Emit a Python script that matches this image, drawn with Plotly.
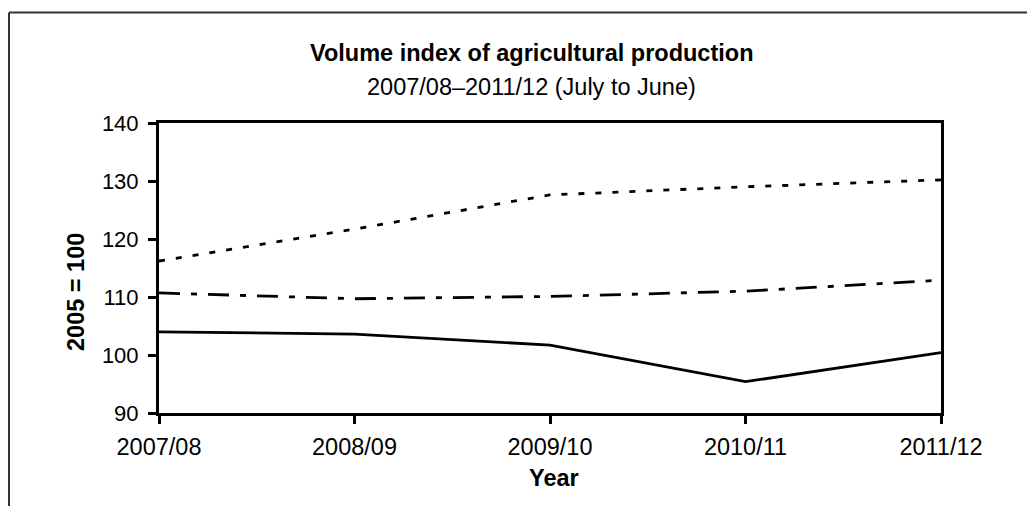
import plotly.graph_objects as go

years = ["2007/08", "2008/09", "2009/10", "2010/11", "2011/12"]
series_solid = [104.0, 103.6, 101.7, 95.4, 100.4]
series_dashdot = [110.7, 109.7, 110.1, 111.0, 112.9]
series_dotted = [116.2, 121.7, 127.6, 129.0, 130.2]
y_ticks = [90, 100, 110, 120, 130, 140]

FONT = "Liberation Sans, Arial, sans-serif"
FS = 23.5
OFF = 8  # page body margin offset

fig = go.Figure()
fig.add_trace(go.Scatter(x=years, y=series_dotted, mode="lines",
                         line=dict(color="black", width=2.8, dash="6px,11px"),
                         showlegend=False))
fig.add_trace(go.Scatter(x=years, y=series_dashdot, mode="lines",
                         line=dict(color="black", width=2.8, dash="21px,11px,6px,11px"),
                         showlegend=False))
fig.add_trace(go.Scatter(x=years, y=series_solid, mode="lines",
                         line=dict(color="black", width=2.8),
                         showlegend=False))

W, H = 1035, 506
SL, SR, ST, SB = 159, 941, 123, 413
L, T = SL - OFF, ST - OFF
R, B = W - (SR - OFF), H - (SB - OFF)
pw, ph = W - L - R, H - T - B

def px(x):
    return (x - OFF - L) / pw

def py(y):
    return (H - B - (y - OFF)) / ph

fig.update_layout(
    width=W, height=H,
    margin=dict(l=L, r=R, t=T, b=B, pad=0),
    paper_bgcolor="white", plot_bgcolor="white",
    font=dict(family=FONT, size=FS, color="black"),
    xaxis=dict(type="category", range=[0, 4], showline=True, linecolor="black",
               linewidth=3, mirror=True, ticks="outside", ticklen=8, tickwidth=2.5,
               tickcolor="black", showgrid=False, zeroline=False, ticklabelstandoff=3,
               tickfont=dict(family=FONT, size=FS, color="black")),
    yaxis=dict(range=[90, 140], tickvals=y_ticks, showline=True, linecolor="black",
               linewidth=3, mirror=True, ticks="outside", ticklen=8, tickwidth=2.5,
               tickcolor="black", showgrid=False, zeroline=False, ticklabelstandoff=5,
               tickfont=dict(family=FONT, size=22, color="black")),
    annotations=[
        dict(text="<b>Volume index of agricultural production</b>", xref="paper", yref="paper",
             x=px(531), y=py(53), xanchor="center", yanchor="middle", showarrow=False,
             font=dict(family=FONT, size=FS, color="black")),
        dict(text="2007/08–2011/12 (July to June)", xref="paper", yref="paper",
             x=px(531), y=py(87), xanchor="center", yanchor="middle", showarrow=False,
             font=dict(family=FONT, size=FS, color="black")),
        dict(text="<b>2005 = 100</b>", xref="paper", yref="paper", textangle=-90,
             x=px(75.5), y=py(292.5), xanchor="center", yanchor="middle", showarrow=False,
             font=dict(family=FONT, size=FS, color="black")),
        dict(text="<b>Year</b>", xref="paper", yref="paper",
             x=px(553.7), y=py(477.5), xanchor="center", yanchor="middle", showarrow=False,
             font=dict(family=FONT, size=FS, color="black")),
    ],
    shapes=[
        dict(type="line", xref="paper", yref="paper", x0=px(9), x1=px(9), y0=py(12.5), y1=py(560),
             line=dict(color="#333333", width=2)),
        dict(type="line", xref="paper", yref="paper", x0=px(9), x1=px(1100), y0=py(12.5), y1=py(12.5),
             line=dict(color="#333333", width=2)),
    ],
)

fig.write_html("out.html")
